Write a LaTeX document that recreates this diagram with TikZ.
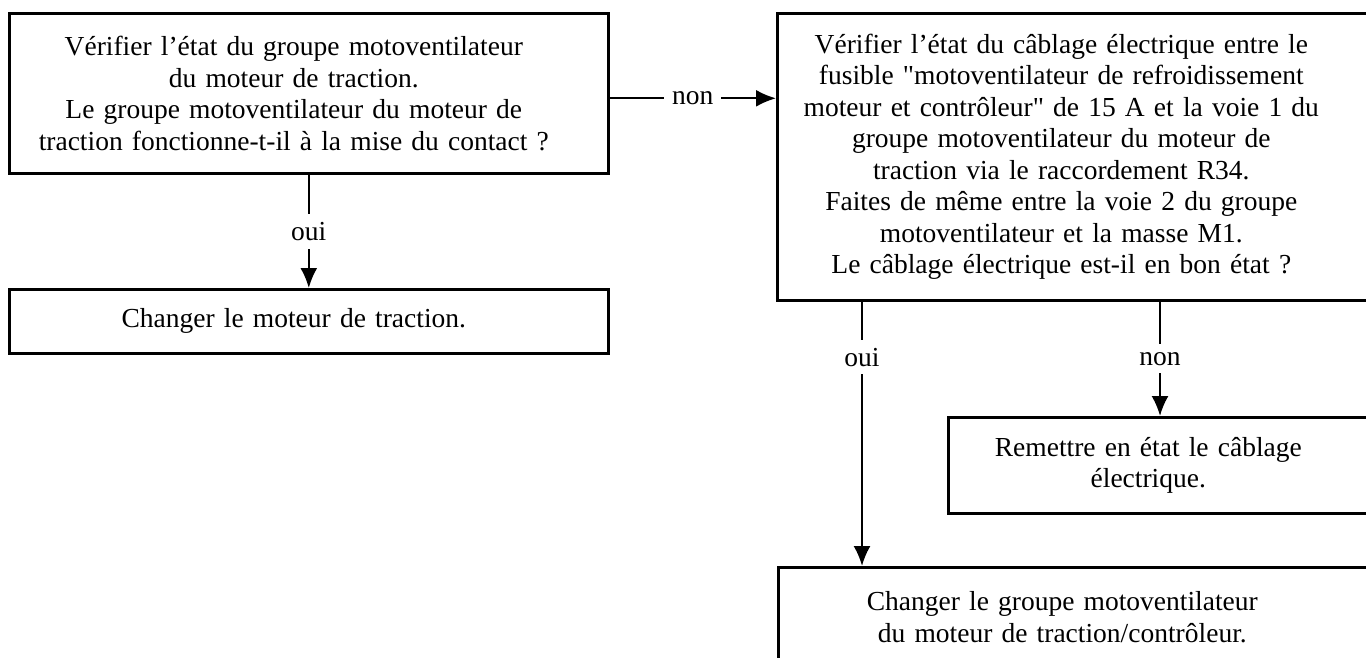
\documentclass[tikz,border=0pt]{standalone}
\usepackage{fontspec}
\setmainfont{Liberation Serif}[Ligatures=TeXOff]
\usetikzlibrary{arrows.meta,positioning,calc}
\tikzset{
  box/.style={rectangle, draw=black, line width=2.6pt, align=center, anchor=north west,
              inner xsep=5pt, inner ysep=0pt, font=\fontsize{27.5}{31.5}\selectfont,
              execute at begin node={\leftskip=0pt plus 1fil\rightskip=30pt plus 1fil\parfillskip=0pt}},
  ar/.style={-{Latex[length=20pt,width=17pt]}, line width=2.2pt},
  lbl/.style={fill=white, inner sep=8pt, font=\fontsize{27.5}{31.5}\selectfont},
}

\begin{document}
\begin{tikzpicture}[x=1pt, y=-1pt]
  \useasboundingbox (0,0) rectangle (1366,657);

  % ---- left column ----
  \node[box, minimum width=599pt, minimum height=160pt, text width=589pt] (A) at (8,12)
    {Vérifier l’état du groupe motoventilateur\\
     du moteur de traction.\\
     Le groupe motoventilateur du moteur de\\
     traction fonctionne-t-il à la mise du contact~?};
  \node[box, minimum width=599pt, minimum height=64pt, text width=589pt] (B) at (8,288)
    {Changer le moteur de traction.};

  \draw[ar] (A) -- (B) node[lbl, midway] {oui};

  % ---- right column ----
  \node[box, minimum width=598pt, minimum height=287pt, text width=588pt] (C) at (776,12)
    {Vérifier l’état du câblage électrique entre le\\
     fusible "motoventilateur de refroidissement\\
     moteur et contrôleur" de 15 A et la voie 1 du\\
     groupe motoventilateur du moteur de\\
     traction via le raccordement R34.\\
     Faites de même entre la voie 2 du groupe\\
     motoventilateur et la masse M1.\\
     Le câblage électrique est-il en bon état~?};
  \node[box, minimum width=430pt, minimum height=96pt, text width=420pt] (D) at (947,416)
    {Remettre en état le câblage\\
     électrique.};
  \node[box, minimum width=598pt, minimum height=100pt, text width=588pt] (E) at (777,566)
    {Changer le groupe motoventilateur\\
     du moteur de traction/contrôleur.};

  \coordinate (aNon) at ($(A.east)+(0,5)$);
  \draw[ar] (aNon) -- (aNon -| C.west) node[lbl, midway] {non};

  \coordinate (cOui) at ($(C.south west)+(86,0)$);
  \coordinate (cNon) at ($(C.south west)+(384,0)$);
  \draw[ar] (cOui) -- (cOui |- E.north) node[lbl, pos=0.21] {oui};
  \draw[ar] (cNon) -- (cNon |- D.north) node[lbl, midway] {non};

\end{tikzpicture}
\end{document}
